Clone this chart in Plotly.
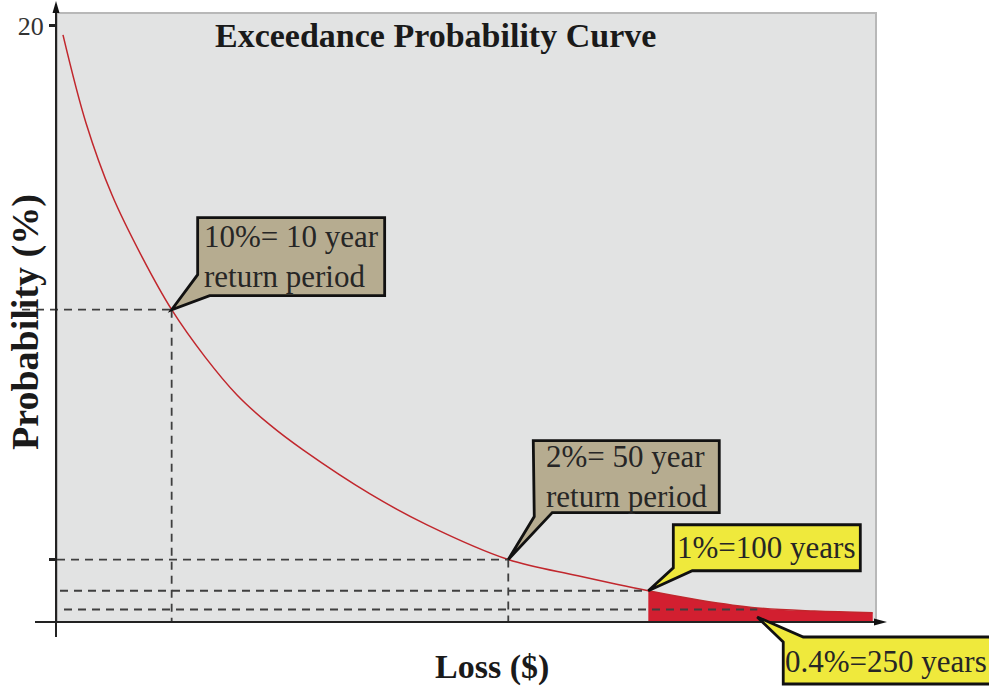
import plotly.graph_objects as go

# ---------------- data ----------------
loss = [0.73, 3.54, 6.72, 10.38, 14.0, 18.07, 21.98, 26.01, 30.04, 38.22, 45.18, 55.1,
        63.6, 72.2, 78.5, 85.5, 92.5, 99.6]
prob = [18.8, 15.98, 13.67, 11.69, 10.0, 8.49, 7.27, 6.31, 5.51, 4.10, 3.11, 2.0,
        1.48, 1.0, 0.70, 0.45, 0.35, 0.30]

level_prob = [10, 2, 1, 0.4]          # highlighted exceedance levels (%)
level_loss = [14.0, 55.1, 72.2, 85.5]  # loss where the curve hits each level
level_text = ["10%= 10 year<br>return period", "2%= 50 year<br>return period",
              "1%=100 years", "0.4%=250 years"]

tail_start = 72.2  # red shaded tail starts at the 1% point

y_tick_vals = [19.1, 2]
y_tick_text = ["20", ""]

title_text = "Exceedance Probability Curve"
x_title = "Loss ($)"
y_title = "Probability (%)"

# ---------------- layout geometry ----------------
W, H = 989, 692
L, R, T, B = 57, 876, 13, 622
PW, PH = R - L, B - T
X_RANGE = [0, 100]
Y_RANGE = [0, 19.5]

def xpx(px):   # pixel -> paper
    return (px - L) / PW

def ypx(py):
    return (B - py) / PH

def xd(x):     # data -> paper
    return (x - X_RANGE[0]) / (X_RANGE[1] - X_RANGE[0])

def yd(y):
    return (y - Y_RANGE[0]) / (Y_RANGE[1] - Y_RANGE[0])

SERIF = "Liberation Serif, Times New Roman, serif"
BEIGE = "#b6ac90"
YELLOW = "#efe93c"

fig = go.Figure()

tail_x = [x for x in loss if x >= tail_start]
tail_y = [p for x, p in zip(loss, prob) if x >= tail_start]
fig.add_trace(go.Scatter(x=tail_x, y=tail_y, mode="lines", fill="tozeroy",
                         fillcolor="#d21f30", line=dict(width=0, shape="spline", smoothing=1.0),
                         hoverinfo="skip", showlegend=False))
fig.add_trace(go.Scatter(x=loss, y=prob, mode="lines",
                         line=dict(color="#c1272d", width=1.5, shape="spline", smoothing=1.0),
                         showlegend=False))

shapes = []
# plot frame (gray top/right border)
shapes.append(dict(type="rect", xref="paper", yref="paper", x0=0, x1=1, y0=0, y1=1,
                   line=dict(color="#b8b8b8", width=2), layer="below"))

# dashed guide lines
h_start_px = [22, 57, 60, 64]
dash = dict(color="#3f3f3f", width=1.8, dash="8px,6px")
for i, (lx, lp) in enumerate(zip(level_loss, level_prob)):
    shapes.append(dict(type="line", xref="paper", yref="paper",
                       x0=xpx(h_start_px[i]), x1=xd(lx), y0=yd(lp), y1=yd(lp),
                       line=dash, layer="above"))
for lx, lp in zip(level_loss[:2], level_prob[:2]):
    shapes.append(dict(type="line", xref="paper", yref="paper",
                       x0=xd(lx), x1=xd(lx), y0=yd(lp), y1=0,
                       line=dash, layer="above"))

# axis lines with arrows
shapes.append(dict(type="line", xref="paper", yref="paper", x0=xpx(56), x1=xpx(56),
                   y0=ypx(637), y1=ypx(10), line=dict(color="#222", width=2), layer="above"))
shapes.append(dict(type="path", xref="paper", yref="paper",
                   path=f"M {xpx(56)} {ypx(1)} L {xpx(52.5)} {ypx(13)} L {xpx(59.5)} {ypx(13)} Z",
                   fillcolor="#111", line=dict(width=0), layer="above"))
shapes.append(dict(type="line", xref="paper", yref="paper", x0=xpx(35), x1=xpx(877),
                   y0=0, y1=0, line=dict(color="#222", width=2), layer="above"))
shapes.append(dict(type="path", xref="paper", yref="paper",
                   path=f"M {xpx(887)} {ypx(622)} L {xpx(874)} {ypx(618.5)} L {xpx(874)} {ypx(625.5)} Z",
                   fillcolor="#111", line=dict(width=0), layer="above"))

# callouts: box + pointer, in pixel offsets from the tip point
callouts = [
    (level_loss[0], level_prob[0],
     [(26, 92), (213, 92), (213, 14), (38, 14), (0, 0), (26, 35)], (120, 53), BEIGE),
    (level_loss[1], level_prob[1],
     [(25, 119), (211, 119), (211, 47), (44, 47), (0, 0), (26, 43)], (118, 83), BEIGE),
    (level_loss[2], level_prob[2],
     [(25, 66), (212, 66), (212, 20), (44, 20), (0, 0), (25, 23)], (118, 43), YELLOW),
    (level_loss[3], 0,
     [(26, -20), (0, 5), (46, -15), (236, -15), (236, -62), (26, -62)], (129, -39), YELLOW),
]
annotations = []
for (ax, ay, pts, (sx, sy), col), txt in zip(callouts, level_text):
    path = "M " + " L ".join(f"{dx} {dy}" for dx, dy in pts) + " Z"
    shapes.append(dict(type="path", xref="paper", yref="paper",
                       xsizemode="pixel", ysizemode="pixel",
                       xanchor=xd(ax), yanchor=yd(ay), path=path,
                       fillcolor=col, line=dict(color="#111", width=2.8), layer="above"))
    annotations.append(dict(xref="paper", yref="paper", x=xd(ax), y=yd(ay),
                            xshift=sx, yshift=sy, text=txt, showarrow=False,
                            xanchor="center", yanchor="middle", align="left",
                            font=dict(family=SERIF, size=31, color="#262626")))

annotations.append(dict(xref="paper", yref="paper", x=xpx(435), y=ypx(36), text=f"<b>{title_text}</b>",
                        showarrow=False, xanchor="center", yanchor="middle",
                        font=dict(family=SERIF, size=34, color="#1a1a1a")))
annotations.append(dict(xref="paper", yref="paper", x=xpx(492), y=ypx(667), text=f"<b>{x_title}</b>",
                        showarrow=False, xanchor="center", yanchor="middle",
                        font=dict(family=SERIF, size=34, color="#1a1a1a")))
annotations.append(dict(xref="paper", yref="paper", x=xpx(26), y=ypx(322), text=f"<b>{y_title}</b>",
                        showarrow=False, xanchor="center", yanchor="middle", textangle=-90,
                        font=dict(family=SERIF, size=38, color="#1a1a1a")))

fig.update_layout(
    width=W, height=H,
    margin=dict(l=L, r=W - R, t=T, b=H - B, pad=0),
    paper_bgcolor="white", plot_bgcolor="#e2e3e3",
    shapes=shapes, annotations=annotations, showlegend=False,
    xaxis=dict(range=X_RANGE, showticklabels=False, showgrid=False, zeroline=False,
               showline=False, ticks="", fixedrange=True),
    yaxis=dict(range=Y_RANGE, tickvals=y_tick_vals, ticktext=y_tick_text, ticks="outside",
               ticklen=7, tickwidth=2.5, tickcolor="#222", showgrid=False, zeroline=False,
               showline=False, fixedrange=True,
               tickfont=dict(family=SERIF, size=26, color="#333")),
)

fig.write_html("out.html", config={"displayModeBar": False},
               post_script="document.body.style.margin='0';document.body.style.overflow='hidden';")
